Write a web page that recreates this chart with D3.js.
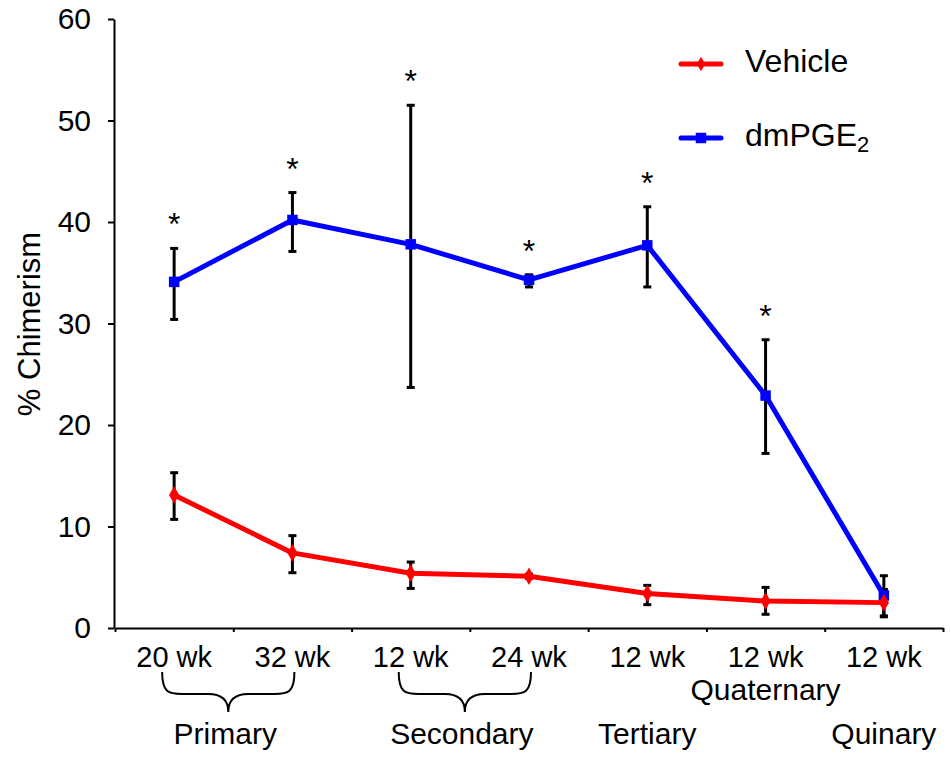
<!DOCTYPE html>
<html>
<head>
<meta charset="utf-8">
<script src="https://cdn.jsdelivr.net/npm/d3@7"></script>
<style>
  body { margin: 0; background: #fff; }
  text { font-family: Arial, "Liberation Sans", sans-serif; fill: #000; }
</style>
</head>
<body>
<script>
var w = 951, h = 758;

// data
var timepoints = ["20 wk", "32 wk", "12 wk", "24 wk", "12 wk", "12 wk", "12 wk"];
var vehicle      = [13.1, 7.4, 5.4, 5.1, 3.4, 2.65, 2.5];
var vehicleLow   = [10.7, 5.45, 3.9, 4.9, 2.3, 1.35, 1.2];
var vehicleHigh  = [15.3, 9.1, 6.5, 5.3, 4.2, 4.0, 3.8];
var dmpge2       = [34.1, 40.2, 37.8, 34.3, 37.7, 22.9, 3.2];
var dmpge2Low    = [30.4, 37.1, 23.7, 33.6, 33.6, 17.2, 1.1];
var dmpge2High   = [37.4, 42.9, 51.5, 34.8, 41.5, 28.4, 5.15];
var significant  = [true, true, true, true, true, true, false];
var yTicks = [0, 10, 20, 30, 40, 50, 60];
var groups = [
  {name: "Primary", from: 0, to: 1, row: 2, brace: true},
  {name: "Secondary", from: 2, to: 3, row: 2, brace: true},
  {name: "Tertiary", from: 4, to: 4, row: 2, brace: false},
  {name: "Quaternary", from: 5, to: 5, row: 1, brace: false},
  {name: "Quinary", from: 6, to: 6, row: 2, brace: false}
];

var svg = d3.select("body").append("svg")
    .attr("width", w)
    .attr("height", h);

var idx = d3.range(timepoints.length);

var x = d3.scaleBand()
    .domain(idx)
    .range([115, 943]);

var y = d3.scaleLinear()
    .domain([0, 60])
    .range([628, 19]);

function cx(i) { return x(i) + x.bandwidth() / 2; }

// brace ends and tip for a group
function braceLeft(g) { return cx(g.from) - 12; }
function braceRight(g) { return cx(g.to) + 2; }
function groupCenter(g) {
    if (g.brace) return (braceLeft(g) + braceRight(g)) / 2 - 3;
    return (cx(g.from) + cx(g.to)) / 2;
}

// y axis
var yAxis = svg.append("g")
    .attr("transform", "translate(114,0)")
    .call(d3.axisLeft(y).tickValues(yTicks).tickSize(6).tickSizeOuter(0).tickPadding(17));
yAxis.select(".domain").attr("stroke", "#000").attr("stroke-width", 2);
yAxis.selectAll(".tick line").attr("stroke-width", 2);
yAxis.selectAll(".tick text")
    .style("font-size", "30px")
    .style("font-family", "Arial, 'Liberation Sans', sans-serif");

// x axis: ticks on the category boundaries
var bounds = idx.map(function(i) { return x(i); }).concat([x.range()[1]]);
var xb = d3.scaleLinear().domain([115, 943]).range([115, 943]);
var xAxis = svg.append("g")
    .attr("transform", "translate(0,628)")
    .call(d3.axisBottom(xb).tickValues(bounds).tickSize(4).tickSizeOuter(0).tickFormat(""));
xAxis.select(".domain").attr("stroke-width", 2);
xAxis.selectAll(".tick line").attr("stroke-width", 2);

// x labels
svg.selectAll(".xlab")
    .data(timepoints)
    .enter().append("text")
    .attr("class", "xlab")
    .attr("x", function(d, i) { return cx(i); })
    .attr("y", 667)
    .attr("text-anchor", "middle")
    .style("font-size", "29px")
    .text(function(d) { return d; });

// braces under grouped time points
var braceTop = 672, braceMid = 694, braceTip = 712, r = 20;
svg.selectAll(".brace")
    .data(groups.filter(function(g) { return g.brace; }))
    .enter().append("path")
    .attr("class", "brace")
    .attr("fill", "none")
    .attr("stroke", "#000")
    .attr("stroke-width", 2)
    .attr("d", function(g) {
        var x1 = braceLeft(g), x2 = braceRight(g), m = (x1 + x2) / 2;
        return "M" + x1 + "," + braceTop +
            "C" + x1 + "," + (braceMid - 2) + " " + (x1 + 6) + "," + braceMid + " " + (x1 + r) + "," + braceMid +
            "L" + (m - r) + "," + braceMid +
            "Q" + m + "," + braceMid + " " + m + "," + braceTip +
            "Q" + m + "," + braceMid + " " + (m + r) + "," + braceMid +
            "L" + (x2 - r) + "," + braceMid +
            "C" + (x2 - 6) + "," + braceMid + " " + x2 + "," + (braceMid - 2) + " " + x2 + "," + braceTop;
    });

svg.selectAll(".glab")
    .data(groups)
    .enter().append("text")
    .attr("class", "glab")
    .attr("x", groupCenter)
    .attr("y", function(g) { return g.row == 1 ? 700 : 744; })
    .attr("text-anchor", "middle")
    .style("font-size", "30px")
    .text(function(g) { return g.name; });

// y title
svg.append("text")
    .attr("transform", "translate(40,324) rotate(-90)")
    .attr("text-anchor", "middle")
    .style("font-size", "31px")
    .text("% Chimerism");

// error bars
var series = [
    {name: "dmPGE2", color: "#0000ff", values: dmpge2, low: dmpge2Low, high: dmpge2High, shape: d3.symbolSquare, size: 110},
    {name: "Vehicle", color: "#ff0000", values: vehicle, low: vehicleLow, high: vehicleHigh, shape: d3.symbolDiamond, size: 90}
];

series.forEach(function(s) {
    var eb = svg.append("g").attr("stroke", "#000").attr("stroke-width", 3);
    idx.forEach(function(i) {
        eb.append("line")
            .attr("x1", cx(i)).attr("x2", cx(i))
            .attr("y1", y(s.low[i])).attr("y2", y(s.high[i]));
        [s.low[i], s.high[i]].forEach(function(v) {
            eb.append("line")
                .attr("x1", cx(i) - 4).attr("x2", cx(i) + 4)
                .attr("y1", y(v)).attr("y2", y(v));
        });
    });
});

var line = d3.line()
    .x(function(d, i) { return cx(i); })
    .y(function(d) { return y(d); });

series.forEach(function(s) {
    svg.append("path")
        .datum(s.values)
        .attr("fill", "none")
        .attr("stroke", s.color)
        .attr("stroke-width", 5)
        .attr("stroke-linejoin", "round")
        .attr("d", line);
    svg.selectAll(null)
        .data(s.values)
        .enter().append("path")
        .attr("transform", function(d, i) { return "translate(" + cx(i) + "," + y(d) + ")"; })
        .attr("fill", s.color)
        .attr("d", d3.symbol().type(s.shape).size(s.size));
});

// significance stars
svg.selectAll(".star")
    .data(idx.filter(function(i) { return significant[i]; }))
    .enter().append("text")
    .attr("class", "star")
    .attr("x", function(i) { return cx(i); })
    .attr("y", function(i) { return y(dmpge2High[i]) - 13; })
    .attr("text-anchor", "middle")
    .style("font-size", "32px")
    .text("*");

// legend
var legend = svg.append("g");
var legItems = [
    {label: "Vehicle", color: "#ff0000", shape: d3.symbolDiamond, size: 60, y: 64},
    {label: "dmPGE", sub: "2", color: "#0000ff", shape: d3.symbolSquare, size: 110, y: 138}
];
legItems.forEach(function(d) {
    legend.append("line")
        .attr("x1", 681).attr("x2", 721)
        .attr("y1", d.y).attr("y2", d.y)
        .attr("stroke", d.color)
        .attr("stroke-width", 5)
        .attr("stroke-linecap", "round");
    legend.append("path")
        .attr("transform", "translate(701," + d.y + ")")
        .attr("fill", d.color)
        .attr("d", d3.symbol().type(d.shape).size(d.size));
    var t = legend.append("text")
        .attr("x", 745)
        .attr("y", d.y + 8)
        .style("font-size", "32px")
        .text(d.label);
    if (d.sub) {
        t.append("tspan")
            .attr("dy", 6)
            .style("font-size", "22px")
            .text(d.sub);
    }
});
</script>
</body>
</html>
